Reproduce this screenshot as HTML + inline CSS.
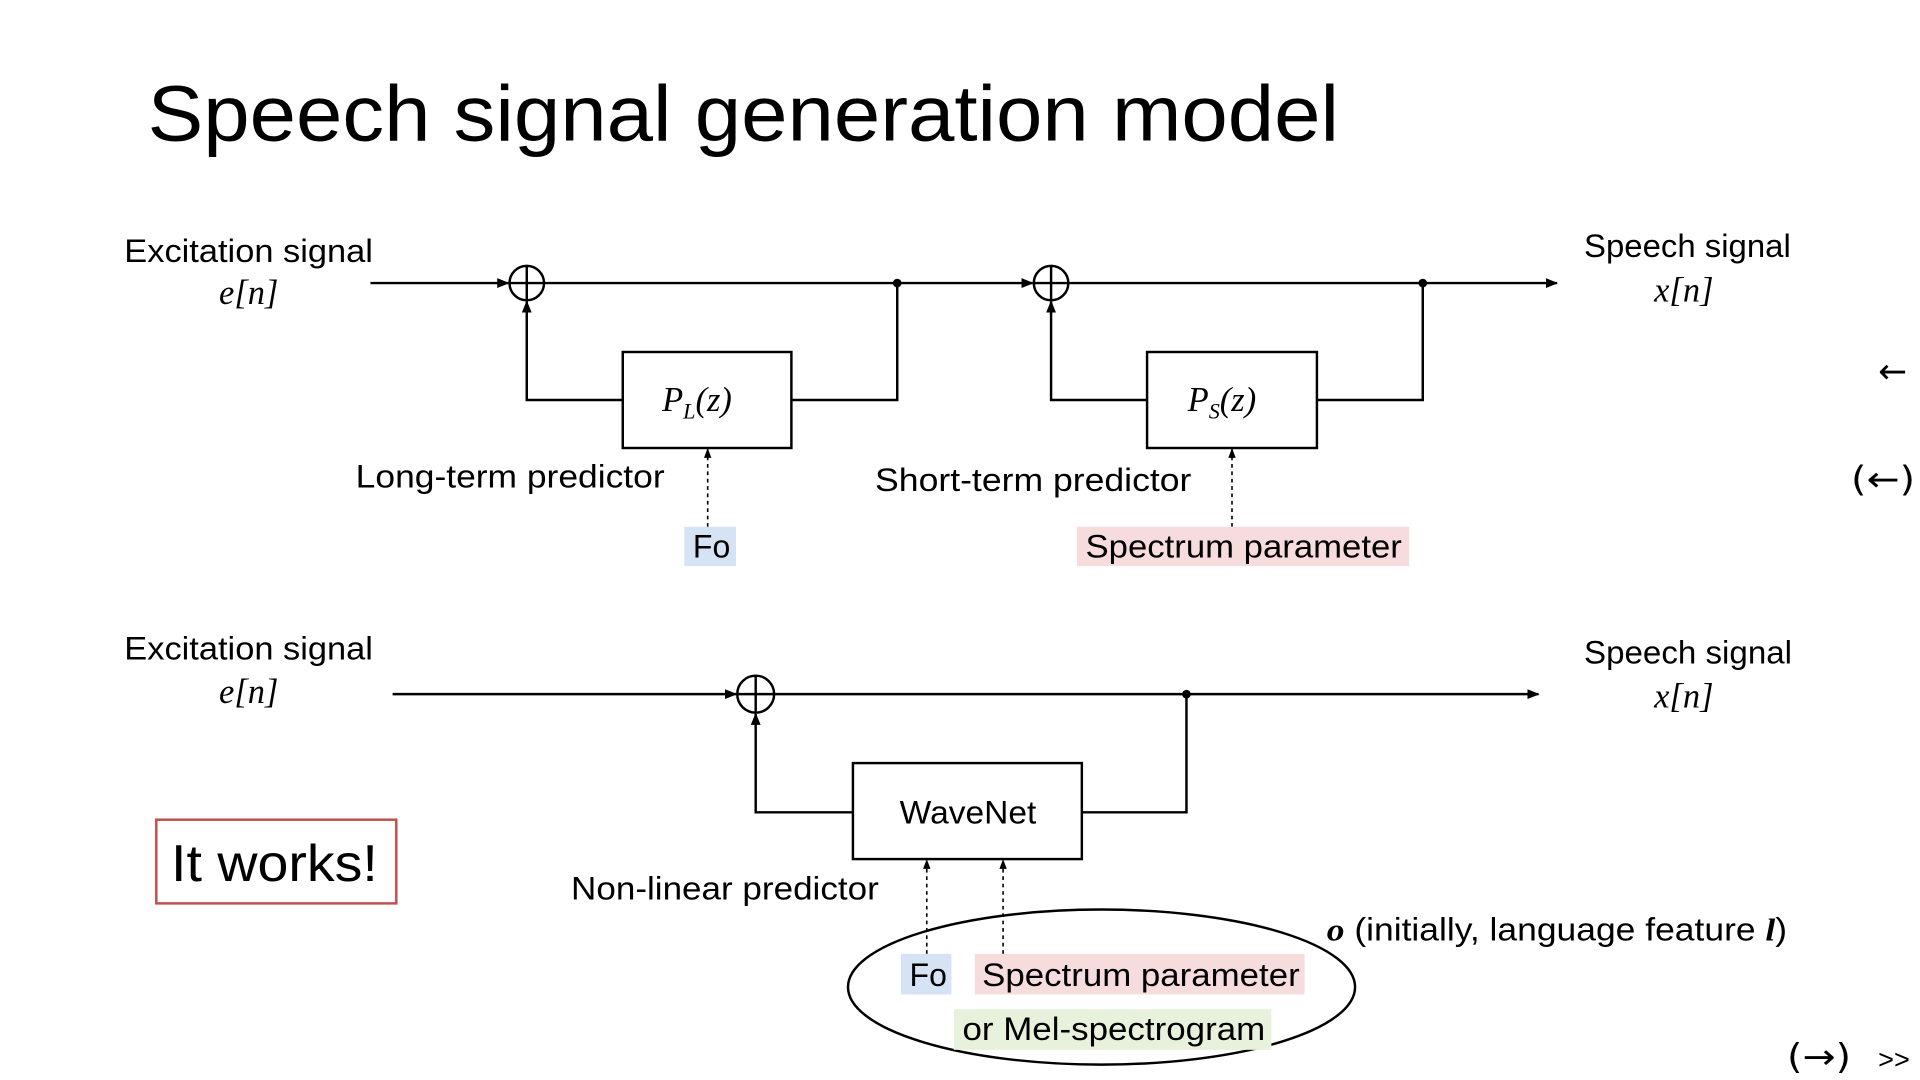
<!DOCTYPE html>
<html><head><meta charset="utf-8"><style>
html,body{margin:0;padding:0;background:#fff;}
svg{display:block;}
text{font-family:"Liberation Sans",sans-serif;fill:#000;}
.m{font-family:"Liberation Serif",serif;font-style:italic;}
.d{font-family:"DejaVu Sans",sans-serif;}
</style></head><body>
<svg width="1920" height="1080" viewBox="0 0 1560 877.5" xmlns="http://www.w3.org/2000/svg">
<defs>
<marker id="a" markerWidth="10" markerHeight="8" refX="9" refY="4" orient="auto" markerUnits="userSpaceOnUse"><path d="M0,0 L10,4 L0,8 z" fill="#000"/></marker>
<marker id="s" markerWidth="8" markerHeight="8" refX="7" refY="4" orient="auto" markerUnits="userSpaceOnUse"><path d="M0,1 L8,4 L0,7 z" fill="#000"/></marker>
</defs>
<text x="120" y="114" font-size="64" textLength="968" lengthAdjust="spacingAndGlyphs">Speech signal generation model</text>

<g stroke="#000" stroke-width="2" fill="none">
<line x1="301" y1="230" x2="413" y2="230" marker-end="url(#a)"/>
<circle cx="428" cy="230" r="14"/>
<line x1="414" y1="230" x2="442" y2="230"/><line x1="428" y1="216" x2="428" y2="244"/>
<line x1="442" y1="230" x2="839" y2="230" marker-end="url(#a)"/>
<circle cx="854" cy="230" r="14"/>
<line x1="840" y1="230" x2="868" y2="230"/><line x1="854" y1="216" x2="854" y2="244"/>
<line x1="868" y1="230" x2="1265" y2="230" marker-end="url(#a)"/>
<polyline points="729,230 729,325 643,325"/>
<rect x="506" y="286" width="137" height="78"/>
<polyline points="506,325 428,325 428,245" marker-end="url(#a)"/>
<polyline points="1156,230 1156,325 1070,325"/>
<rect x="932" y="286" width="138" height="78"/>
<polyline points="932,325 854,325 854,245" marker-end="url(#a)"/>
<line x1="575" y1="428" x2="575" y2="365" stroke-width="1.3" stroke-dasharray="3,3" marker-end="url(#s)"/>
<line x1="1001" y1="428" x2="1001" y2="365" stroke-width="1.3" stroke-dasharray="3,3" marker-end="url(#s)"/>
<line x1="319" y1="564" x2="598" y2="564" marker-end="url(#a)"/>
<circle cx="614" cy="564" r="15"/>
<line x1="599" y1="564" x2="629" y2="564"/><line x1="614" y1="549" x2="614" y2="579"/>
<line x1="629" y1="564" x2="1250" y2="564" marker-end="url(#a)"/>
<polyline points="964,564 964,660 879,660"/>
<rect x="693" y="620" width="186" height="78"/>
<polyline points="693,660 614,660 614,580" marker-end="url(#a)"/>
<line x1="753" y1="775" x2="753" y2="699" stroke-width="1.3" stroke-dasharray="3,3" marker-end="url(#s)"/>
<line x1="815" y1="775" x2="815" y2="699" stroke-width="1.3" stroke-dasharray="3,3" marker-end="url(#s)"/>
<ellipse cx="895" cy="802" rx="206" ry="63"/>
<rect x="127" y="666" width="195" height="68" stroke="#c0504d"/>
</g>
<circle cx="729" cy="230" r="3.5"/><circle cx="1156" cy="230" r="3.5"/><circle cx="964" cy="564" r="3.5"/>

<rect x="556" y="428" width="42" height="32" fill="#d6e3f5"/>
<rect x="875" y="428" width="270" height="32" fill="#f6dcdc"/>
<rect x="732" y="775" width="41" height="33" fill="#d6e3f5"/>
<rect x="792" y="775" width="268" height="33" fill="#f6dcdc"/>
<rect x="775" y="820" width="258" height="33" fill="#e8f1dc"/>

<g font-size="26">
<text x="101" y="213" textLength="202" lengthAdjust="spacingAndGlyphs">Excitation signal</text>
<text x="178" y="247" class="m" font-size="28">e[n]</text>
<text x="1287" y="209" textLength="168" lengthAdjust="spacingAndGlyphs">Speech signal</text>
<text x="1344" y="245" class="m" font-size="28">x[n]</text>
<text x="538" y="334" class="m" font-size="28">P<tspan font-size="18" dy="6">L</tspan><tspan dy="-6">(z)</tspan></text>
<text x="965" y="334" class="m" font-size="28">P<tspan font-size="18" dy="6">S</tspan><tspan dy="-6">(z)</tspan></text>
<text x="289" y="396" textLength="251" lengthAdjust="spacingAndGlyphs">Long-term predictor</text>
<text x="711" y="399" textLength="257" lengthAdjust="spacingAndGlyphs">Short-term predictor</text>
<text x="563" y="453">Fo</text>
<text x="882" y="453" textLength="257" lengthAdjust="spacingAndGlyphs">Spectrum parameter</text>

<text x="101" y="536" textLength="202" lengthAdjust="spacingAndGlyphs">Excitation signal</text>
<text x="178" y="571" class="m" font-size="28">e[n]</text>
<text x="1287" y="539" textLength="169" lengthAdjust="spacingAndGlyphs">Speech signal</text>
<text x="1344" y="575" class="m" font-size="28">x[n]</text>
<text x="731" y="669" textLength="111" lengthAdjust="spacingAndGlyphs">WaveNet</text>
<text x="464" y="731" textLength="250" lengthAdjust="spacingAndGlyphs">Non-linear predictor</text>
<text x="1078" y="764" textLength="374" lengthAdjust="spacingAndGlyphs"><tspan class="m" font-weight="bold">o</tspan> (initially, language feature <tspan class="m" font-weight="bold">l</tspan>)</text>
<text x="739" y="801">Fo</text>
<text x="798" y="801" textLength="258" lengthAdjust="spacingAndGlyphs">Spectrum parameter</text>
<text x="782" y="845" textLength="246" lengthAdjust="spacingAndGlyphs">or Mel-spectrogram</text>
<text x="1526" y="311" class="d" font-size="28">←</text>
<text x="1504" y="399" class="d" font-size="28" textLength="52" lengthAdjust="spacingAndGlyphs">(←)</text>
<text x="1452" y="868" class="d" font-size="28" textLength="52" lengthAdjust="spacingAndGlyphs">(→)</text>
<text x="1526" y="868" font-size="22">&gt;&gt;</text>
</g>
<text x="139" y="716" font-size="42" textLength="168" lengthAdjust="spacingAndGlyphs">It works!</text>
</svg>
</body></html>
